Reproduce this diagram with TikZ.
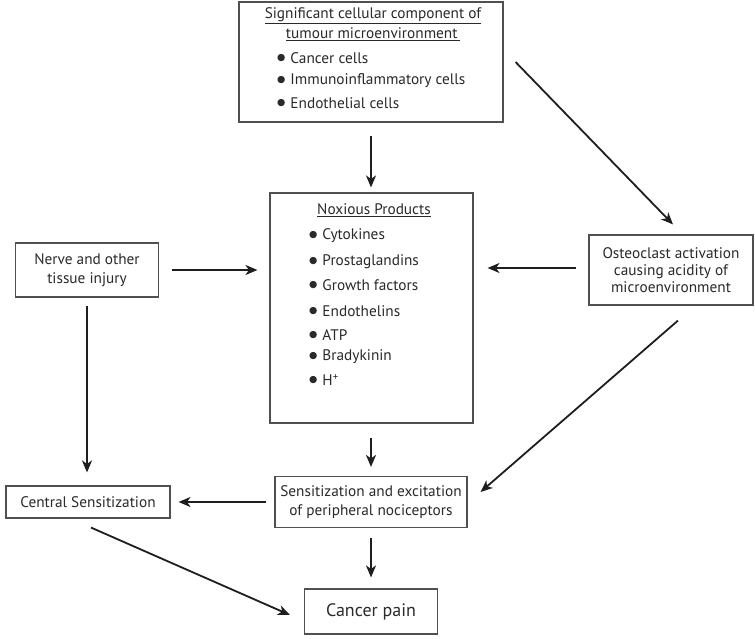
\documentclass[tikz,border=0pt]{standalone}
\usepackage{fontspec}
\setmainfont{PT Sans}
\newfontfamily\dejavu{DejaVu Sans}
\usetikzlibrary{arrows.meta,calc}
\definecolor{boxgray}{HTML}{505050}
\definecolor{arrblack}{HTML}{1E1E1E}
\definecolor{txtgray}{HTML}{2A2A2A}
\newcommand{\fs}{\fontsize{15.3}{19}\selectfont}
\newcommand{\bul}{\raisebox{2.6pt}{\dejavu\fontsize{9.5}{9.5}\selectfont ●}\hspace{5pt}}
\begin{document}
\begin{tikzpicture}[x=1pt,y=-1pt,
  box/.style={draw=boxgray,line width=1.1pt,inner sep=0pt,align=center,font=\fs,text=txtgray},
  arr/.style={draw=arrblack,line width=1.8pt,-{Stealth[length=12pt,width=10pt,inset=3.5pt]}},
  txt/.style={inner sep=0pt,font=\fs,text=txtgray},
  item/.style={txt,anchor=west}]
\useasboundingbox[fill=white] (0,0) rectangle (755,639);
% top box
\node[box,minimum width=264pt,minimum height=120pt] (top) at (371,62) {};
\node[txt] at (373,16) {\underline{Significant cellular component of}};
\node[txt] at (373,34) {\underline{tumour microenvironment\,}};
\node[item] at (277,58) {\bul Cancer cells};
\node[item] at (277,81) {\bul Immunoinflammatory cells};
\node[item] at (277,103) {\bul Endothelial cells};
% noxious box
\node[box,minimum width=203pt,minimum height=230pt] (nox) at (371.5,308) {};
\node[txt] at (374,210) {\underline{Noxious Products}};
\node[item] at (309,236) {\bul Cytokines};
\node[item] at (309,262) {\bul Prostaglandins};
\node[item] at (309,285) {\bul Growth factors};
\node[item] at (309,311) {\bul Endothelins};
\node[item] at (309,335) {\bul ATP};
\node[item] at (309,357) {\bul Bradykinin};
\node[item] at (309,380) {\bul H\textsuperscript{+}};
% other boxes
\node[box,minimum width=143pt,minimum height=54pt] (nerve) at (87,270) {Nerve and other\\tissue injury};
\node[box,minimum width=164pt,minimum height=70pt,font=\fontsize{15.3}{17.2}\selectfont] (osteo) at (671,270) {Osteoclast activation\\causing acidity of\\microenvironment};
\node[box,minimum width=164pt,minimum height=32pt] (central) at (88,502) {Central Sensitization};
\node[box,minimum width=192pt,minimum height=51pt] (sens) at (371,502) {Sensitization and excitation\\of peripheral nociceptors};
\node[box,minimum width=133pt,minimum height=45pt,font=\fontsize{18}{21}\selectfont] (pain) at (371,611.5) {Cancer pain};
% connectors
\draw[arr,shorten <=13pt,shorten >=5pt] (top.south) -- (top.south |- nox.north);
\draw[arr] ([xshift=12pt]top.east) -- ([shift={(2pt,10pt)}]osteo.north);
\draw[arr] ([xshift=13pt]nerve.east) -- ([xshift=-12pt]nerve.east -| nox.west);
\draw[arr] ([shift={(-12pt,2pt)}]osteo.west) -- ([shift={(14pt,2pt)}]osteo.west -| nox.east);
\draw[arr,shorten <=8pt,shorten >=13pt] (nerve.south) -- (nerve.south |- central.north);
\draw[arr] ([shift={(7pt,-15pt)}]osteo.south) -- ([shift={(13pt,10pt)}]sens.east);
\draw[arr,shorten <=14pt,shorten >=9pt] (sens.north |- nox.south) -- (sens.north);
\draw[arr,shorten <=8pt,shorten >=8pt] (sens.west) -- (sens.west -| central.east);
\draw[arr,shorten <=10pt,shorten >=11pt] (sens.south) -- (sens.south |- pain.north);
\draw[arr] ([shift={(3pt,-9pt)}]central.south) -- ([shift={(-14pt,-3.5pt)}]pain.west);
\end{tikzpicture}
\end{document}
